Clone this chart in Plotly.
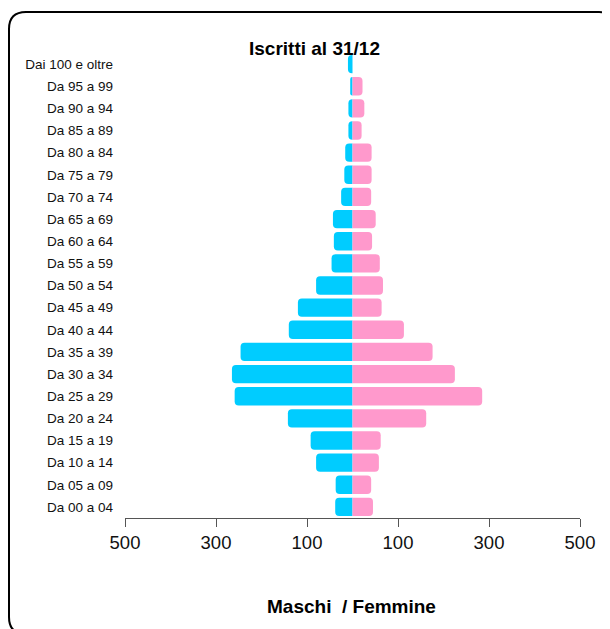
import plotly.graph_objects as go

categories = ["Da 00 a 04", "Da 05 a 09", "Da 10 a 14", "Da 15 a 19", "Da 20 a 24",
              "Da 25 a 29", "Da 30 a 34", "Da 35 a 39", "Da 40 a 44", "Da 45 a 49",
              "Da 50 a 54", "Da 55 a 59", "Da 60 a 64", "Da 65 a 69", "Da 70 a 74",
              "Da 75 a 79", "Da 80 a 84", "Da 85 a 89", "Da 90 a 94", "Da 95 a 99",
              "Dai 100 e oltre"]
maschi = [38, 37, 80, 92, 142, 259, 265, 246, 140, 120, 80, 46, 41, 43, 25, 18, 16, 9, 9, 5, 10]
femmine = [45, 41, 58, 62, 162, 285, 225, 176, 113, 64, 67, 60, 43, 51, 41, 42, 42, 20, 26, 22, 0]
tick_vals = [-500, -300, -100, 100, 300, 500]
tick_text = ["500", "300", "100", "100", "300", "500"]

FONT = "Liberation Sans, Arial, sans-serif"
OFF = 8  # page body margin
W, H = 610 - OFF, 629 - OFF
L, T = 125 - OFF, 53 - OFF
R = W - (580 - OFF)
B = H - (518 - OFF)
PW, PH = W - L - R, H - T - B


def px_x(p):
    return (p - OFF - L) / PW


def px_y(p):
    return (H - B - (p - OFF)) / PH


fig = go.Figure()
fig.add_trace(go.Bar(y=categories, x=[-v for v in maschi], orientation="h",
                     marker=dict(color="#00CCFF", line=dict(width=0)), name="Maschi"))
fig.add_trace(go.Bar(y=categories, x=femmine, orientation="h",
                     marker=dict(color="#FF99CC", line=dict(width=0)), name="Femmine"))

# rounded frame
x0, y0, x1, y1, r = 9, 12, 616, 634, 17
path = (f"M {px_x(x0 + r)},{px_y(y0)} L {px_x(x1 - r)},{px_y(y0)} "
        f"Q {px_x(x1)},{px_y(y0)} {px_x(x1)},{px_y(y0 + r)} "
        f"L {px_x(x1)},{px_y(y1 - r)} Q {px_x(x1)},{px_y(y1)} {px_x(x1 - r)},{px_y(y1)} "
        f"L {px_x(x0 + r)},{px_y(y1)} Q {px_x(x0)},{px_y(y1)} {px_x(x0)},{px_y(y1 - r)} "
        f"L {px_x(x0)},{px_y(y0 + r)} Q {px_x(x0)},{px_y(y0)} {px_x(x0 + r)},{px_y(y0)} Z")

fig.update_layout(
    width=W, height=H,
    margin=dict(l=L, r=R, t=T, b=B, pad=0),
    paper_bgcolor="white", plot_bgcolor="white",
    barmode="relative", bargap=0.17, barcornerradius=4,
    showlegend=False,
    font=dict(family=FONT, color="#000000"),
    xaxis=dict(range=[-500, 500], tickvals=tick_vals, ticktext=tick_text,
               showgrid=False, zeroline=False, showline=True, linecolor="#555555",
               linewidth=1, ticks="outside", ticklen=8, tickcolor="#555555",
               tickfont=dict(size=18.5, family=FONT, color="#111111"), fixedrange=True),
    yaxis=dict(categoryorder="array", categoryarray=categories, range=[-0.5, 20.5],
               showgrid=False, zeroline=False, showline=False, ticks="",
               ticklabelstandoff=11,
               tickfont=dict(size=13.5, family=FONT, color="#111111"), fixedrange=True),
    shapes=[dict(type="path", xref="paper", yref="paper", path=path,
                 line=dict(color="black", width=2), fillcolor="rgba(0,0,0,0)", layer="below")],
    annotations=[
        dict(text="<b>Iscritti al 31/12</b>", xref="paper", yref="paper",
             x=px_x(314.5), y=px_y(48), xanchor="center", yanchor="middle",
             showarrow=False, font=dict(size=19, family=FONT, color="#000000")),
        dict(text="<b>Maschi\u00a0 / Femmine</b>", xref="paper", yref="paper",
             x=px_x(351), y=px_y(606.5), xanchor="center", yanchor="middle",
             showarrow=False, font=dict(size=19, family=FONT, color="#000000")),
    ],
)

fig.write_html("out.html")
